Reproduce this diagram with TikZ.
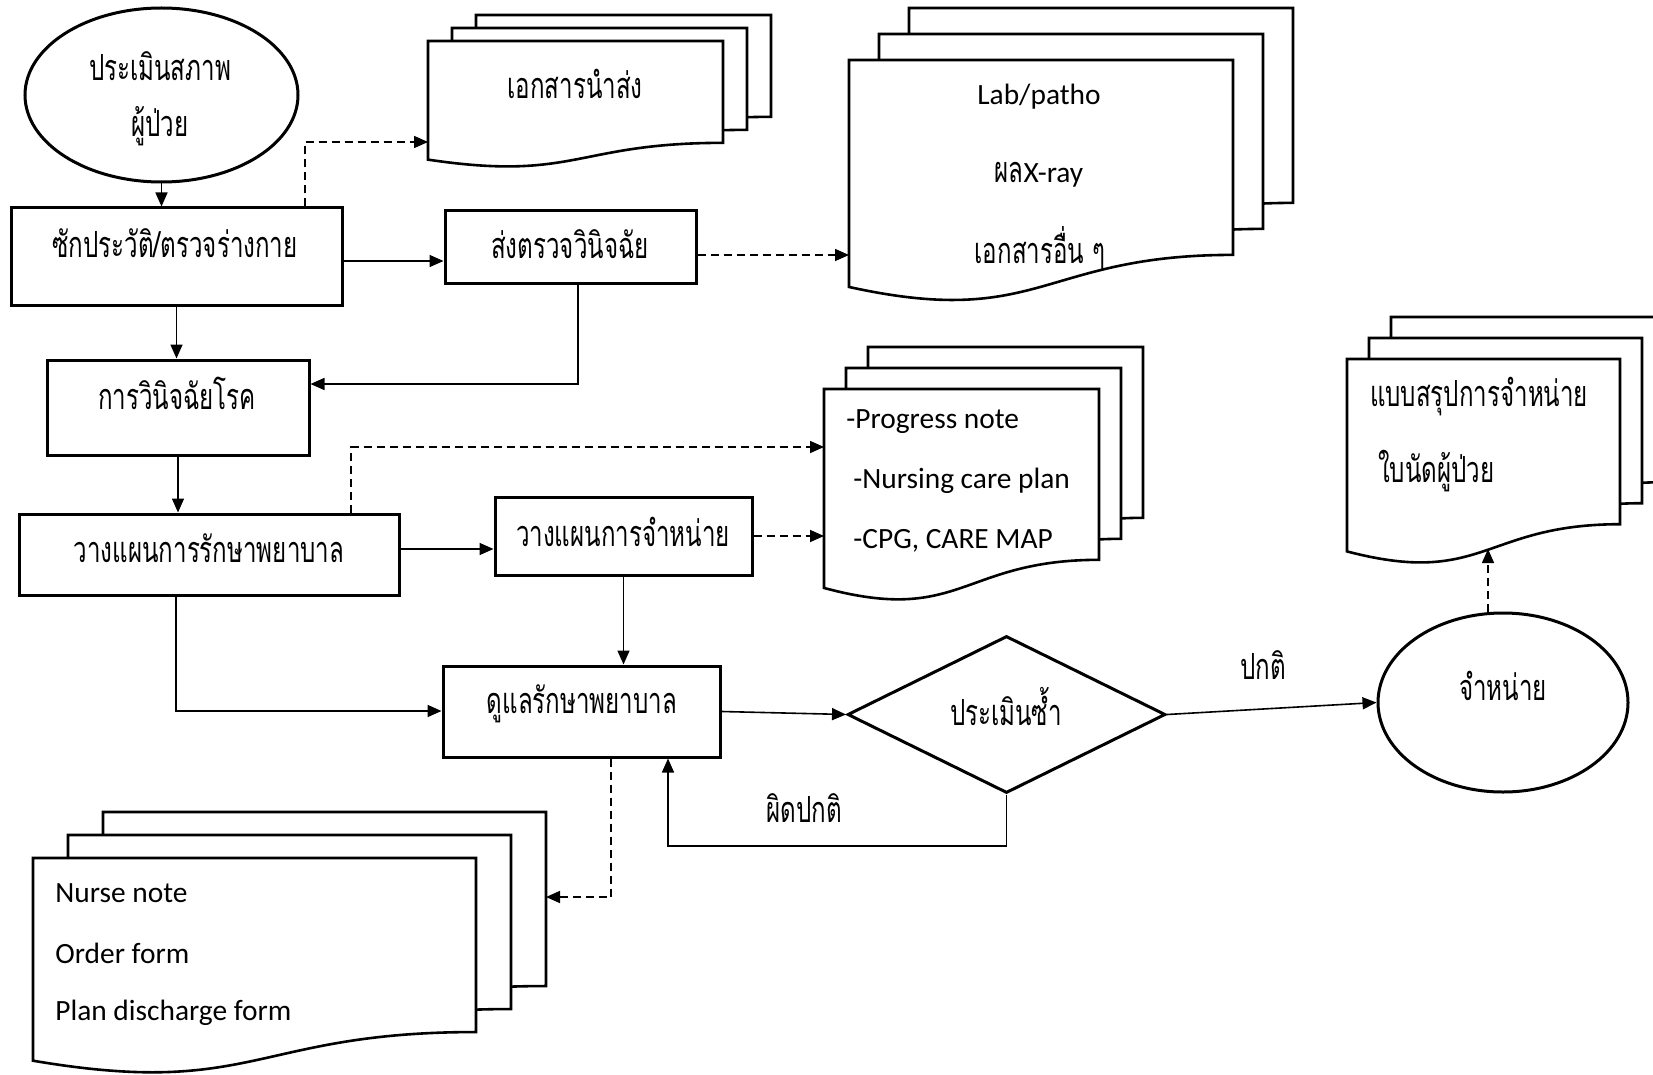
\documentclass[tikz,border=0pt]{standalone}
\usepackage{fontspec}
\setmainfont{Carlito}
\newfontfamily\thaifont[Script=Thai,FakeStretch=0.67]{Loma}
\usepackage{tikz}
\usetikzlibrary{shapes.geometric, arrows.meta, calc}
\definecolor{flowink}{HTML}{000000}

\tikzset{
  procbox/.style={draw=flowink, line width=1.5pt, rectangle, inner sep=0pt},
  roundbox/.style={draw=flowink, line width=1.5pt, ellipse, inner sep=0pt},
  choicebox/.style={draw=flowink, line width=1.5pt, diamond, inner sep=0pt},
  docline/.style={draw=flowink, fill=white, line width=1.3pt},
  thaitext/.style={font=\thaifont\fontsize{18}{22}\selectfont},
  lattext/.style={font=\fontsize{14.7}{17}\selectfont, inner sep=0pt},
  arr/.style={draw=flowink, line width=0.8pt, -{Triangle[length=7pt,width=6pt]}},
  dasharr/.style={arr, dash pattern=on 4pt off 2.5pt}
}

% one page: top-left x, y, width, height
\newcommand{\docpage}[4]{%
  \draw[docline] (#1,#2) -- ({#1+#3},#2) -- ({#1+#3},{#2+0.802*#4})
    .. controls ({#1+0.5*#3},{#2+0.802*#4}) and ({#1+0.5*#3},{#2+1.108*#4}) ..
    (#1,{#2+0.934*#4}) -- cycle;}

% three pages: name, x, y, width, height, dx, dy
\newcommand{\docstack}[7]{%
  \foreach \k in {2,1,0}{%
    \pgfmathsetmacro{\px}{#2+\k*(#6)}%
    \pgfmathsetmacro{\py}{#3+\k*(#7)}%
    \docpage{\px}{\py}{#4}{#5}%
  }
  \node[inner sep=0pt, minimum width=#4*0.5pt, minimum height=0.802*#5*0.5pt,
        anchor=north west] (#1) at (#2,#3) {};
  \pgfmathsetmacro{\bx}{#2+2*(#6)+#4}%
  \pgfmathsetmacro{\by}{#3+2*(#7)}%
  \coordinate (#1b) at (\bx,\by);}

\begin{document}
\begin{tikzpicture}[x=0.5pt, y=-0.5pt]
  \useasboundingbox (0,0) rectangle (1653,1075);

  % documents
  \docstack{referdoc}{428}{41}{295}{127}{24}{-13}
  \docstack{labdoc}{849}{60}{384}{243}{30}{-26}
  \docstack{progdoc}{824}{389}{275}{213}{22}{-21}
  \docstack{sumdoc}{1347}{359}{273}{206}{22}{-21}
  \docstack{nursedoc}{33}{858}{443}{217}{35}{-23}

  \node[thaitext] (refert) at (575,84) {เอกสารนำส่ง};
  \node[lattext] (labt1) at (1039,97) {Lab/patho};
  \node[lattext] (labt2) at (1039,175) {{\thaifont\fontsize{18}{22}\selectfont ผล}X-ray};
  \node[thaitext] (labt3) at (1040,248) {เอกสารอื่น ๆ};
  \node[lattext, anchor=west] (progt1) at (846,422) {-Progress note};
  \node[lattext, anchor=west] (progt2) at (853,481) {-Nursing care plan};
  \node[lattext, anchor=west] (progt3) at (853,541) {-CPG, CARE MAP};
  \node[thaitext, anchor=west] (sumt1) at (1363,397) {แบบสรุปการจำหน่าย};
  \node[thaitext, anchor=west] (sumt2) at (1371,471) {ใบนัดผู้ป่วย};
  \node[lattext, anchor=west] (nurset1) at (55,893) {Nurse note};
  \node[lattext, anchor=west] (nurset2) at (55,953) {Order form};
  \node[lattext, anchor=west] (nurset3) at (55,1013) {Plan discharge form};

  % steps
  \node[roundbox, minimum width=136.5pt, minimum height=87pt] (eval) at (161.5,95) {};
  \node[thaitext] (evalt1) at (160,66) {ประเมินสภาพ};
  \node[thaitext] (evalt2) at (160,126) {ผู้ป่วย};

  \node[procbox, minimum width=165.5pt, minimum height=48.5pt] (hist) at (176.5,256.5) {};
  \node[thaitext] (histt) at (175,243) {ซักประวัติ/ตรวจร่างกาย};

  \node[procbox, minimum width=125.5pt, minimum height=36pt] (sendlab) at (570.5,247) {};
  \node[thaitext] (sendlabt) at (570,244) {ส่งตรวจวินิจฉัย};

  \node[procbox, minimum width=131pt, minimum height=47.5pt] (diag) at (178,407.5) {};
  \node[thaitext] (diagt) at (177,393) {การวินิจฉัยโรค};

  \node[procbox, minimum width=190pt, minimum height=40.5pt] (plan) at (209,554.5) {};
  \node[thaitext] (plant) at (209,548) {วางแผนการรักษาพยาบาล};

  \node[procbox, minimum width=128.5pt, minimum height=39pt] (dplan) at (623.5,536) {};
  \node[thaitext] (dplant) at (623,532) {วางแผนการจำหน่าย};

  \node[procbox, minimum width=138.5pt, minimum height=45.5pt] (care) at (581.5,711.5) {};
  \node[thaitext] (caret) at (582,704) {ดูแลรักษาพยาบาล};

  \node[choicebox, minimum width=159pt, minimum height=78.5pt] (reeval) at (1006.5,714.5) {};
  \node[thaitext] (reevalt) at (1006,707) {ประเมินซ้ำ};

  \node[roundbox, minimum width=125pt, minimum height=89.5pt] (disch) at (1503,702.5) {};
  \node[thaitext] (discht) at (1503,686) {จำหน่าย};

  % bends and free ends
  \coordinate (c1) at (305,142);
  \coordinate (c2) at (578,384);
  \coordinate (c3) at (351,447);
  \coordinate (c4) at (176,711);
  \coordinate (c5) at (668,846);
  \coordinate (c6) at (1488,549);
  \coordinate (c7) at (611,897);
  \coordinate (r1) at (0,261);
  \coordinate (r2) at (0,255);
  \coordinate (r3) at (0,549);

  % connectors
  \draw[arr] (eval.south) -- (eval.south |- hist.north);
  \draw[dasharr] (c1 |- hist.north) -- (c1) -- (c1 -| referdoc.west);
  \draw[arr] (hist.east |- r1) -- (sendlab.west |- r1);
  \draw[dasharr] (sendlab.east |- r2) -- (labdoc.west |- r2);
  \draw[arr] (c2 |- sendlab.south) -- (c2) -- (c2 -| diag.east);
  \draw[arr] (hist.south) -- (hist.south |- diag.north);
  \draw[arr] (diag.south) -- (diag.south |- plan.north);
  \draw[dasharr] (c3 |- plan.north) -- (c3) -- (c3 -| progdoc.west);
  \draw[arr] (plan.east |- r3) -- (dplan.west |- r3);
  \draw[dasharr] (dplan.east) -- (dplan.east -| progdoc.west);
  \draw[arr] (dplan.south) -- (dplan.south |- care.north);
  \draw[arr] (c4 |- plan.south) -- (c4) -- (c4 -| care.west);
  \draw[arr] (care.east) -- (reeval.west);
  \draw[arr] (reeval.south) -- (reeval.south |- c5) -- (c5) -- (c5 |- care.south);
  \draw[arr] (reeval.east) -- (disch.west);
  \draw[dasharr] (c6 |- disch.north) -- (c6);
  \draw[dasharr] (c7 |- care.south) -- (c7) -- (c7 -| nursedocb);

  \node[thaitext] (normt) at (1263,665) {ปกติ};
  \node[thaitext] (abnormt) at (804,808) {ผิดปกติ};
\end{tikzpicture}
\end{document}
